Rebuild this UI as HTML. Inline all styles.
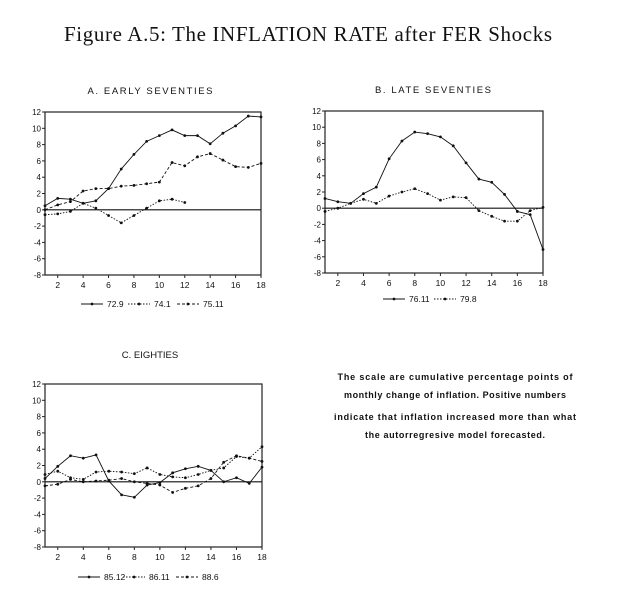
<!DOCTYPE html>
<html><head><meta charset="utf-8"><style>
body{margin:0;background:#fff}
svg{display:block}
text{font-family:"Liberation Sans",sans-serif;fill:#111}
</style></head><body>
<svg id="s" width="625" height="597" viewBox="0 0 625 597" xmlns="http://www.w3.org/2000/svg">
<text x="308" y="41" text-anchor="middle" style="font-family:'Liberation Serif',serif;font-size:21px" textLength="488" lengthAdjust="spacing">Figure A.5: The INFLATION RATE after FER Shocks</text>
<text x="150" y="94" text-anchor="middle" font-size="9.5" textLength="125" lengthAdjust="spacing">A.  EARLY  SEVENTIES</text>
<text x="433" y="93" text-anchor="middle" font-size="9.5" textLength="116" lengthAdjust="spacing">B.  LATE  SEVENTIES</text>
<text x="150" y="358" text-anchor="middle" font-size="9.5">C.  EIGHTIES</text>
<g font-size="9" font-weight="bold">
<text x="455" y="380" text-anchor="middle" textLength="235" lengthAdjust="spacing">The scale are cumulative percentage points of</text>
<text x="455" y="398" text-anchor="middle" textLength="222" lengthAdjust="spacing">monthly change of inflation. Positive numbers</text>
<text x="455" y="420" text-anchor="middle" textLength="242" lengthAdjust="spacing">indicate that inflation increased more than what</text>
<text x="455" y="438" text-anchor="middle" textLength="180" lengthAdjust="spacing">the autorregresive model forecasted.</text>
</g>
</svg>
<script>
const NS="http://www.w3.org/2000/svg",S=document.getElementById('s');
function el(t,a,txt){const e=document.createElementNS(NS,t);for(const k in a)e.setAttribute(k,a[k]);if(txt!=null)e.textContent=txt;S.appendChild(e);return e;}
function panel(L,R,T,B,series,legend,ly){
 const X=i=>L+(i-1)*(R-L)/17, Y=v=>T+(12-v)*(B-T)/20;
 el('rect',{x:L,y:T,width:R-L,height:B-T,fill:'none',stroke:'#222','stroke-width':1.2});
 el('line',{x1:L,x2:R,y1:Y(0),y2:Y(0),stroke:'#111','stroke-width':1.2});
 for(let v=-8;v<=12;v+=2){el('line',{x1:L-3,x2:L,y1:Y(v),y2:Y(v),stroke:'#222'});
  el('text',{x:L-4,y:Y(v)+3,'text-anchor':'end','font-size':8},v);}
 for(let i=2;i<=18;i+=2){el('line',{x1:X(i),x2:X(i),y1:B,y2:B+3,stroke:'#222'});
  el('text',{x:X(i),y:B+13,'text-anchor':'middle','font-size':8.5},i);}
 series.forEach(s=>{
  el('polyline',{points:s.d.map((v,i)=>X(i+1)+','+Y(v)).join(' '),fill:'none',stroke:'#111','stroke-width':0.9,'stroke-dasharray':s.da||''});
  s.d.forEach((v,i)=>el('circle',{cx:X(i+1),cy:Y(v),r:1.4,fill:'#111'}));
 });
 legend.forEach(g=>{el('line',{x1:g.x,x2:g.x+22,y1:ly,y2:ly,stroke:'#111','stroke-dasharray':g.da||''});
  el('circle',{cx:g.x+11,cy:ly,r:1.4,fill:'#111'});
  el('text',{x:g.x+26,y:ly+3,'font-size':8.5},g.t);});
}
panel(45,261,112,275,[
 {d:[0.5,1.4,1.3,0.8,1.1,2.6,5,6.8,8.4,9.1,9.8,9.1,9.1,8.1,9.4,10.3,11.5,11.4]},
 {d:[0,0.6,1.0,2.3,2.6,2.6,2.9,3.0,3.2,3.4,5.8,5.4,6.5,6.9,6.1,5.3,5.2,5.7],da:'3,2'},
 {d:[-0.6,-0.5,-0.2,0.8,0.2,-0.7,-1.6,-0.7,0.2,1.1,1.3,0.9],da:'1.5,1.5'}
],[{x:81,t:'72.9'},{x:128,t:'74.1',da:'1.5,1.5'},{x:177,t:'75.11',da:'3,2'}],304);
panel(325,543,111,273,[
 {d:[1.2,0.8,0.6,1.8,2.6,6.1,8.3,9.4,9.2,8.8,7.7,5.6,3.6,3.2,1.7,-0.4,-0.8,-5.1]},
 {d:[-0.4,0,0.6,1.1,0.6,1.5,2.0,2.4,1.8,1.0,1.4,1.3,-0.3,-1,-1.6,-1.6,-0.3,0.1],da:'1.5,1.5'}
],[{x:383,t:'76.11'},{x:434,t:'79.8',da:'1.5,1.5'}],299);
panel(45,262,384,547,[
 {d:[0.4,1.9,3.2,2.9,3.3,0.1,-1.6,-1.9,-0.4,-0.1,1.1,1.6,1.9,1.4,0,0.5,-0.2,1.8]},
 {d:[0.9,1.3,0.5,0.3,1.2,1.3,1.2,1.0,1.7,0.9,0.6,0.5,0.9,1.4,1.7,3.1,2.9,4.3],da:'1.5,1.5'},
 {d:[-0.5,-0.3,0.3,0,0.1,0.2,0.4,0,-0.2,-0.4,-1.3,-0.8,-0.5,0.4,2.4,3.2,2.9,2.5],da:'3,2'}
],[{x:78,t:'85.12'},{x:123,t:'86.11',da:'1.5,1.5'},{x:176,t:'88.6',da:'3,2'}],577);
</script>
</body></html>
